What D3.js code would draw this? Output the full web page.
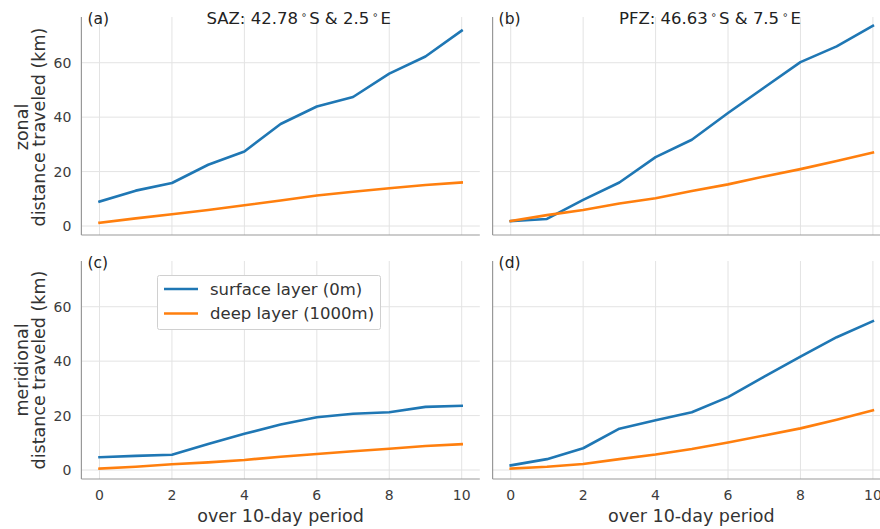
<!DOCTYPE html>
<html>
<head>
<meta charset="utf-8">
<script src="https://cdn.jsdelivr.net/npm/d3@7"></script>
<style>
body { margin: 0; background: #fff; }
text { font-family: "DejaVu Sans", sans-serif; }
</style>
</head>
<body>
<div id="graph"></div>
<script>
var days = [0, 1, 2, 3, 4, 5, 6, 7, 8, 9, 10];
var xTicks = [0, 2, 4, 6, 8, 10];
var yTicks = [0, 20, 40, 60];

// zonal distance (km)
var sazZonalSurface = [9.0, 13.0, 15.8, 22.5, 27.4, 37.5, 43.9, 47.4, 56.0, 62.3, 71.8];
var sazZonalDeep    = [1.2, 2.8, 4.3, 5.9, 7.6, 9.4, 11.2, 12.6, 13.9, 15.1, 16.0];
var pfzZonalSurface = [1.8, 2.6, 9.6, 16.0, 25.3, 31.7, 41.5, 50.9, 60.2, 66.0, 73.6];
var pfzZonalDeep    = [1.8, 4.0, 5.9, 8.3, 10.2, 12.9, 15.3, 18.2, 20.9, 23.9, 27.0];
// meridional distance (km)
var sazMeridSurface = [4.7, 5.2, 5.6, 9.6, 13.3, 16.7, 19.4, 20.7, 21.2, 23.2, 23.6];
var sazMeridDeep    = [0.5, 1.2, 2.1, 2.8, 3.7, 4.9, 5.9, 6.9, 7.8, 8.8, 9.5];
var pfzMeridSurface = [1.7, 4.0, 8.0, 15.2, 18.3, 21.2, 26.8, 34.3, 41.7, 48.8, 54.7];
var pfzMeridDeep    = [0.5, 1.2, 2.2, 4.0, 5.7, 7.7, 10.1, 12.7, 15.3, 18.5, 21.9];

var seriesNames = ["surface layer (0m)", "deep layer (1000m)"];
var seriesColors = ["#1f77b4", "#ff7f0e"];

var panels = [
  {tag: "(a)", col: 0, row: 0, site: "SAZ", lat: "42.78", lon: "2.5", s: sazZonalSurface, d: sazZonalDeep},
  {tag: "(b)", col: 1, row: 0, site: "PFZ", lat: "46.63", lon: "7.5", s: pfzZonalSurface, d: pfzZonalDeep},
  {tag: "(c)", col: 0, row: 1, s: sazMeridSurface, d: sazMeridDeep},
  {tag: "(d)", col: 1, row: 1, s: pfzMeridSurface, d: pfzMeridDeep}
];

var W = 880, H = 529;
var colX = [[81.4, 479.8], [492.6, 891]];
var rowY = [[17, 235], [261, 479]];

var svg = d3.select("#graph").append("svg")
  .attr("width", W).attr("height", H);

function degTitle(t, p) {
  t.append("tspan").text(p.site + ": " + p.lat);
  t.append("tspan").attr("font-size", "10px").attr("dy", -6).attr("dx", 3).text("\u2218");
  t.append("tspan").attr("dy", 6).attr("dx", 2).text("S & " + p.lon);
  t.append("tspan").attr("font-size", "10px").attr("dy", -6).attr("dx", 3).text("\u2218");
  t.append("tspan").attr("dy", 6).attr("dx", 2).text("E");
}

function drawPanel(p) {
  var x = d3.scaleLinear().domain([-0.5, 10.5]).range(colX[p.col]);
  var y = d3.scaleLinear().domain([-3.3, 76.8]).range([rowY[p.row][1], rowY[p.row][0]]);
  var g = svg.append("g");
  var x0 = colX[p.col][0], x1 = colX[p.col][1];
  var y0 = rowY[p.row][1], y1 = rowY[p.row][0];

  // grid
  g.selectAll("line.vg").data(xTicks).enter().append("line")
    .attr("x1", function(d) { return x(d); }).attr("x2", function(d) { return x(d); })
    .attr("y1", y0).attr("y2", y1)
    .attr("stroke", "#e3e3e3").attr("stroke-width", 1);
  g.selectAll("line.hg").data(yTicks).enter().append("line")
    .attr("x1", x0).attr("x2", x1)
    .attr("y1", function(d) { return y(d); }).attr("y2", function(d) { return y(d); })
    .attr("stroke", "#e3e3e3").attr("stroke-width", 1);

  // spines
  g.append("line").attr("x1", x0).attr("x2", x0).attr("y1", y0).attr("y2", y1)
    .attr("stroke", "#999").attr("stroke-width", 1.2);
  g.append("line").attr("x1", x0).attr("x2", x1).attr("y1", y0).attr("y2", y0)
    .attr("stroke", "#999").attr("stroke-width", 1.2);

  if (p.col == 0) {
    g.selectAll("text.yt").data(yTicks).enter().append("text")
      .attr("x", x0 - 10).attr("y", function(d) { return y(d); })
      .attr("dy", "0.36em").attr("text-anchor", "end")
      .attr("font-size", "14px").attr("fill", "#3c3c3c")
      .text(function(d) { return d; });
  }
  if (p.row == 1) {
    g.selectAll("text.xt").data(xTicks).enter().append("text")
      .attr("x", function(d) { return x(d); }).attr("y", y0 + 21)
      .attr("text-anchor", "middle")
      .attr("font-size", "14px").attr("fill", "#3c3c3c")
      .text(function(d) { return d; });
    g.append("text").attr("x", (x0 + Math.min(x1, W)) / 2 + (p.col == 1 ? 5 : 0)).attr("y", y0 + 43)
      .attr("text-anchor", "middle").attr("font-size", "17.5px").attr("fill", "#333")
      .text("over 10-day period");
  }

  var line = d3.line()
    .x(function(d, i) { return x(days[i]); })
    .y(function(d) { return y(d); });
  [p.s, p.d].forEach(function(vals, k) {
    g.append("path").datum(vals)
      .attr("d", line).attr("fill", "none")
      .attr("stroke", seriesColors[k]).attr("stroke-width", 2.6)
      .attr("stroke-linejoin", "round").attr("stroke-linecap", "square");
  });

  g.append("text").attr("x", x0 + 6).attr("y", y1 + 7)
    .attr("font-size", "15.5px").attr("fill", "#222").text(p.tag);

  if (p.site) {
    var t = g.append("text").attr("x", x(5.5)).attr("y", y1 + 7)
      .attr("text-anchor", "middle").attr("font-size", "16.5px").attr("fill", "#222");
    degTitle(t, p);
  }
}

panels.forEach(drawPanel);

// y labels
function yLabel(lines, cy) {
  var t = svg.append("text").attr("transform", "translate(0," + cy + ") rotate(-90)")
    .attr("text-anchor", "middle").attr("font-size", "17.5px").attr("fill", "#333");
  t.append("tspan").attr("x", 0).attr("y", 28).text(lines[0]);
  t.append("tspan").attr("x", 0).attr("y", 45).text(lines[1]);
}
yLabel(["zonal", "distance traveled (km)"], 127);
yLabel(["meridional", "distance traveled (km)"], 370);

// legend in (c)
var leg = svg.append("g");
leg.append("rect").attr("x", 157.5).attr("y", 275.5).attr("width", 223).attr("height", 54)
  .attr("rx", 2).attr("fill", "#fff").attr("stroke", "#d0d0d0");
seriesNames.forEach(function(name, k) {
  var ly = 289 + k * 24.5;
  leg.append("line").attr("x1", 164).attr("x2", 198).attr("y1", ly).attr("y2", ly)
    .attr("stroke", seriesColors[k]).attr("stroke-width", 2.6);
  leg.append("text").attr("x", 210).attr("y", ly).attr("dy", "0.35em")
    .attr("font-size", "16.5px").attr("fill", "#333").text(name);
});
</script>
</body>
</html>
